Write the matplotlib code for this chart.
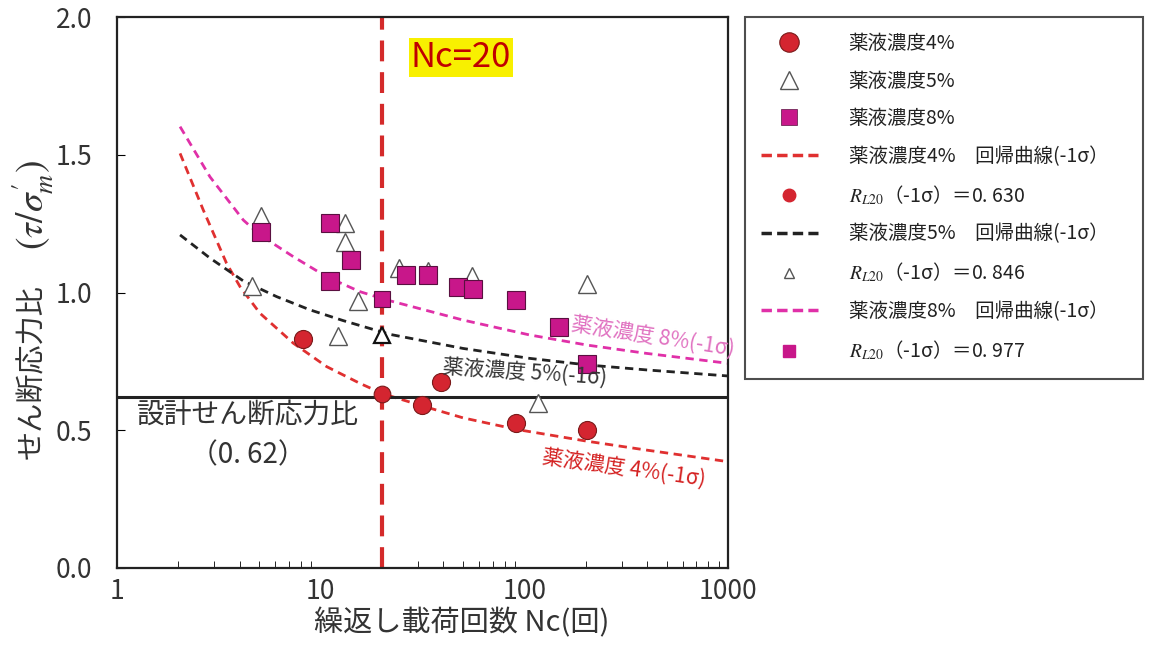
import matplotlib
matplotlib.use("Agg")
import matplotlib.pyplot as plt
from matplotlib.lines import Line2D

plt.rcParams['font.family'] = ['Noto Sans CJK JP', 'DejaVu Sans']
plt.rcParams['mathtext.fontset'] = 'stix'

# measured data points (Nc, stress ratio)
nc_4 = [8.2, 31.5, 39, 91.5, 203]
r_4 = [0.831, 0.590, 0.675, 0.525, 0.500]
nc_5 = [5.1, 13.1, 13.1, 4.6, 15.3, 12.2, 24.3, 33.7, 55.5, 203, 117]
r_5 = [1.279, 1.252, 1.185, 1.025, 0.969, 0.841, 1.088, 1.077, 1.060, 1.030, 0.600]
nc_8 = [5.1, 11.1, 14.1, 11.1, 26.2, 33.7, 47.4, 56.2, 91.5, 148, 203]
r_8 = [1.218, 1.252, 1.117, 1.043, 1.065, 1.062, 1.020, 1.011, 0.971, 0.876, 0.740]

# R_L20 values at Nc=20
nc_20 = 20
rl20_4 = 0.630
rl20_5 = 0.846
rl20_8 = 0.977

# regression curves (-1 sigma)
curve4_nc = [2.04, 2.65, 3.45, 4.02, 5.03, 7.34, 10.7, 15.6, 20.3, 31.7, 50, 91.6, 204, 398, 1000]
curve_4 = [1.505, 1.30, 1.106, 1.021, 0.925, 0.816, 0.731, 0.670, 0.632, 0.588, 0.545,
           0.503, 0.460, 0.428, 0.386]
curve8_nc = [2.04, 2.86, 4.17, 5.03, 7.34, 10.7, 15.6, 21.1, 50, 106, 204, 398, 1000]
curve_8 = [1.602, 1.420, 1.263, 1.209, 1.130, 1.057, 1.003, 0.973, 0.900, 0.846, 0.809,
           0.779, 0.743]
curve5_nc = [2.04, 2.86, 4.17, 6.08, 8.86, 12.9, 21.9, 50, 106, 204, 398, 1000]
curve_5 = [1.209, 1.125, 1.042, 0.985, 0.937, 0.898, 0.848, 0.797, 0.761, 0.737, 0.719, 0.697]

design_ratio = 0.62

red = '#d42530'
magenta = '#c8178a'

fig = plt.figure(figsize=(11.49, 6.48), dpi=100)
ax = fig.add_axes([117/1149, 1-568/648, 611/1149, 551/648])

ax.plot(curve4_nc, curve_4, ls=(0, (3, 2)), color='#e03030', lw=2.0)
ax.plot(curve5_nc, curve_5, ls=(0, (3, 2)), color='#222222', lw=2.0)
ax.plot(curve8_nc, curve_8, ls=(0, (3, 2)), color='#e030a8', lw=2.0)

ax.axhline(design_ratio, color='#222222', lw=2.2)
ax.axvline(nc_20, color='#d42a2a', lw=3, ls=(0, (5, 2.6)))

ax.plot(nc_5, r_5, ls='none', marker='^', ms=13, mfc='white', mec='#555555', mew=1.0)
ax.plot(nc_8, r_8, ls='none', marker='s', ms=13, mfc=magenta, mec='#5a1040', mew=0.8)
ax.plot(nc_4, r_4, ls='none', marker='o', ms=13, mfc=red, mec='#7a1a1a', mew=0.8)

ax.plot([nc_20], [rl20_5], ls='none', marker='^', ms=12, mfc='white', mec='#111111', mew=1.6)
ax.plot([nc_20], [rl20_8], ls='none', marker='s', ms=12, mfc=magenta, mec='#5a1040', mew=0.8)
ax.plot([nc_20], [rl20_4], ls='none', marker='o', ms=12, mfc=red, mec='#7a1a1a', mew=0.8)

ax.set_xscale('log')
ax.set_xlim(1, 1000)
ax.set_ylim(0, 2.0)
ax.set_xticks([1, 10, 100, 1000])
ax.set_xticklabels(['1', '10', '100', '1000'])
ax.set_yticks([0.0, 0.5, 1.0, 1.5, 2.0])
ax.set_yticklabels(['0.0', '0.5', '1.0', '1.5', '2.0'])
ax.tick_params(axis='both', which='both', direction='in', labelsize=19, labelcolor='#333333')
ax.tick_params(axis='y', pad=18, length=6)
ax.tick_params(axis='x', which='major', pad=7, length=0)
ax.tick_params(axis='x', which='minor', length=5)
for s in ax.spines.values():
    s.set_linewidth(1.6)
    s.set_color('#222222')

fig.text(462/1149, 1-623/648, '繰返し載荷回数 Nc(回)', ha='center', va='center',
         fontsize=21, color='#333333')
# y label: Japanese part and the larger math part
fig.text(32/1149, 1-372/648, 'せん断応力比', ha='center', va='center',
         rotation=90, fontsize=21, color='#333333')
fig.text(33/1149, 1-205/648, "$(\\tau/\\sigma^{\\prime}_{m})$", ha='center', va='center',
         rotation=90, fontsize=27, color='#333333')

ax.text(27.6, 1.853, 'Nc=20', fontsize=25, color='#c00000', ha='left', va='center',
        bbox=dict(boxstyle='square,pad=0.05', fc='#f8f000', ec='none'))
ax.text(4.4, 0.552, '設計せん断応力比', fontsize=20, color='#333333', ha='center', va='center')
ax.text(4.4, 0.41, '（0. 62）', fontsize=20, color='#333333', ha='center', va='center')

ax.text(428, 0.838, '薬液濃度 8%(-1σ)', fontsize=15, color='#e070c0', ha='center', va='center',
        rotation=-9, rotation_mode='anchor')
ax.text(100, 0.708, '薬液濃度 5%(-1σ)', fontsize=15, color='#333333', ha='center', va='center',
        rotation=-4, rotation_mode='anchor')
ax.text(308, 0.363, '薬液濃度 4%(-1σ)', fontsize=15, color='#d42020', ha='center', va='center',
        rotation=-8, rotation_mode='anchor')

handles = [
    Line2D([], [], ls='none', marker='o', ms=14, mfc=red, mec='#7a1a1a', mew=0.8),
    Line2D([], [], ls='none', marker='^', ms=13, mfc='white', mec='#555555', mew=1.0),
    Line2D([], [], ls='none', marker='s', ms=12, mfc=magenta, mec='#5a1040', mew=0.5),
    Line2D([], [], ls=(0, (3, 1.5)), color='#e03030', lw=2.5),
    Line2D([], [], ls='none', marker='o', ms=9, mfc=red, mec=red),
    Line2D([], [], ls=(0, (3, 1.5)), color='#222222', lw=2.5),
    Line2D([], [], ls='none', marker='^', ms=7, mfc='white', mec='#555555', mew=1.0),
    Line2D([], [], ls=(0, (3, 1.5)), color='#e030a8', lw=2.5),
    Line2D([], [], ls='none', marker='s', ms=8, mfc=magenta, mec=magenta),
]
labels = [
    '薬液濃度4%', '薬液濃度5%', '薬液濃度8%',
    '薬液濃度4%　回帰曲線(-1σ）',
    '$R_{L20}$（-1σ）＝0. 630',
    '薬液濃度5%　回帰曲線(-1σ）',
    '$R_{L20}$（-1σ）＝0. 846',
    '薬液濃度8%　回帰曲線(-1σ）',
    '$R_{L20}$（-1σ）＝0. 977',
]
leg = fig.legend(handles, labels, loc='upper left',
                 bbox_to_anchor=(745/1149, 1-385/648, 398/1149, 368/648), mode='expand',
                 fontsize=14, frameon=True, fancybox=False, edgecolor='#222222',
                 handlelength=2.9, handletextpad=1.6, labelspacing=0.85,
                 borderpad=0.83, borderaxespad=0)
leg.get_frame().set_linewidth(1.5)
for t in leg.get_texts():
    t.set_color('#222222')

fig.savefig('out.png', dpi=100)
